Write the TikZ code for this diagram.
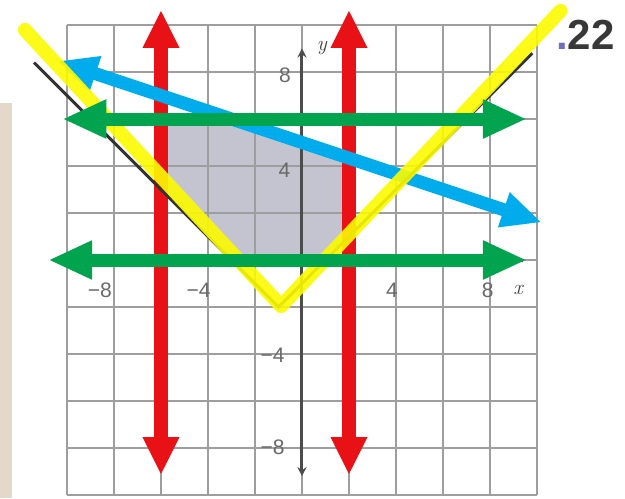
\documentclass[tikz,border=0pt]{standalone}
\usepackage{fontspec}
\setsansfont{Liberation Sans}
\usetikzlibrary{arrows.meta}
\definecolor{redl}{RGB}{232,18,22}
\definecolor{greenl}{RGB}{0,164,78}
\definecolor{bluel}{RGB}{0,172,236}
\definecolor{yellowl}{RGB}{252,250,0}
\definecolor{tanstrip}{RGB}{228,216,202}
\definecolor{shadereg}{RGB}{196,196,208}
\definecolor{gridc}{RGB}{158,158,158}
\definecolor{labelc}{RGB}{105,105,105}
\definecolor{dotc}{RGB}{110,110,190}
\tikzset{
  gridline/.style={draw=gridc, line width=2.6pt},
  axisline/.style={draw=black!70, line width=3pt},
  ticklabel/.style={font=\sffamily\fontsize{21}{21}\selectfont, text=labelc, inner sep=0pt},
  varlabel/.style={font=\fontsize{21}{21}\selectfont\itshape, text=black!75, inner sep=0pt},
  redline/.style={draw=redl, line width=14pt,
    {Triangle[width=34pt,length=38pt]}-{Triangle[width=34pt,length=38pt]}},
  greenline/.style={draw=greenl, line width=13pt,
    {Triangle[width=36pt,length=44pt]}-{Triangle[width=36pt,length=44pt]}},
  blueline/.style={draw=bluel, line width=13pt,
    {Triangle[width=34pt,length=40pt]}-{Triangle[width=34pt,length=40pt]}},
  vline/.style={draw=black!80, line width=3pt},
  hiliter/.style={draw=yellowl, line width=14pt, line cap=round, line join=round, opacity=0.9},
}
\begin{document}
\begin{tikzpicture}[x=23.5pt,y=23.5pt]
\useasboundingbox (-12.851,-10.128) rectangle (13.745,11.064);
\fill[white] (-12.851,-10.128) rectangle (13.745,11.064);
% left page strip
\fill[tanstrip] (-12.851,-10.128) rectangle (-12.34,6.68);
% feasible region
\fill[shadereg] (-6,6) -- (-3,6) -- (2,13/3) -- (2,1) -- (1,0) -- (-3,0) -- (-6,3) -- cycle;
% grid
\draw[gridline] (-10,-10) grid[step=2] (10,10);
% axes
\draw[axisline] (-10,0) -- (9.4,0);
\draw[axisline, {Stealth[length=9pt,width=9pt]}-{Stealth[length=9pt,width=9pt]}] (0,-9.2) -- (0,9);
% labels
\node[ticklabel] (ly8) at (-0.72,7.87) {8};
\node[ticklabel] (ly4) at (-0.75,3.83) {4};
\node[ticklabel] (lym4) at (-1.25,-4.04) {−4};
\node[ticklabel] (lym8) at (-1.25,-7.96) {−8};
\node[ticklabel] (lxm8) at (-8.6,-1.28) {−8};
\node[ticklabel] (lxm4) at (-4.4,-1.28) {−4};
\node[ticklabel] (lx4) at (3.83,-1.28) {4};
\node[ticklabel] (lx8) at (7.9,-1.28) {8};
\node[varlabel] (lx) at (9.2,-1.28) {x};
\node[varlabel] (ly) at (0.85,9.0) {y};
% red boundary lines x = -6 and x = 2
\coordinate (r1a) at (-6,-9.15); \coordinate (r1b) at (-6,10.64);
\coordinate (r2a) at (2,-9.15);  \coordinate (r2b) at (2,10.64);
\draw[redline] (r1a) -- (r1b);
\draw[redline] (r2a) -- (r2b);
% blue line y = -x/3 + 5
\coordinate (b1) at (-10.4,8.467); \coordinate (b2) at (10.2,1.6);
\draw[blueline] (b1) -- (b2);
% printed V  y = |x+1| - 2
\coordinate (v1) at (-11.4,8.4); \coordinate (v0) at (-1,-2); \coordinate (v2) at (9.8,8.8);
\draw[vline] (v1) -- (v0) -- (v2);
% yellow highlighter V
\coordinate (y1) at (-11.79,9.79); \coordinate (y0) at (-0.89,-1.96); \coordinate (y2) at (11.0,10.6);
\draw[hiliter] (y1) -- (y0) -- (y2);
% green lines y = 6 and y = 0
\coordinate (g1a) at (-10.2,6); \coordinate (g1b) at (9.57,6);
\coordinate (g2a) at (-10.8,0); \coordinate (g2b) at (9.57,0);
\draw[greenline] (g1a) -- (g1b);
\draw[greenline] (g2a) -- (g2b);
% problem number
\node[anchor=base west, inner sep=0pt, font=\sffamily\bfseries\fontsize{42}{42}\selectfont, text=black!78]
  (num) at (10.81,8.94) {\textcolor{dotc}{.}22};
\end{tikzpicture}
\end{document}
